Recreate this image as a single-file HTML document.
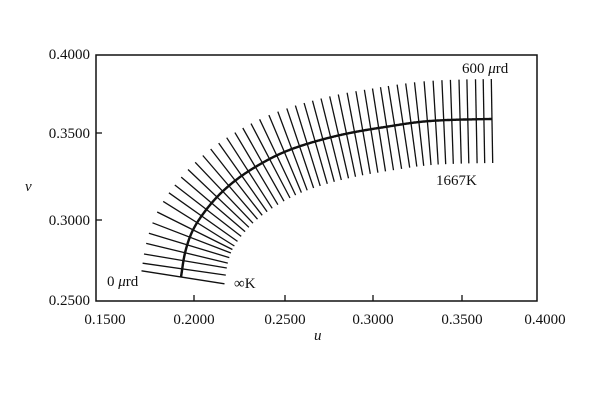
<!DOCTYPE html>
<html><head><meta charset="utf-8"><style>
html,body{margin:0;padding:0;background:#fff;}
svg text{font-family:"Liberation Serif",serif;font-size:15px;fill:#111;}
</style></head><body>
<svg id="s" width="600" height="400" xmlns="http://www.w3.org/2000/svg">
<rect x="96" y="55" width="441" height="246" fill="none" stroke="#111" stroke-width="1.5"/>
<g stroke="#111" stroke-width="1.3">
<line x1="96" y1="133" x2="102" y2="133"/><line x1="96" y1="220" x2="102" y2="220"/>
<line x1="194" y1="301" x2="194" y2="295"/><line x1="285" y1="301" x2="285" y2="295"/>
<line x1="373" y1="301" x2="373" y2="295"/><line x1="462" y1="301" x2="462" y2="295"/>
</g>
<g text-anchor="end">
<text x="90" y="59">0.4000</text><text x="90" y="138">0.3500</text>
<text x="90" y="225">0.3000</text><text x="90" y="305">0.2500</text>
</g>
<g text-anchor="middle">
<text x="105" y="324">0.1500</text><text x="194" y="324">0.2000</text>
<text x="285" y="324">0.2500</text><text x="373" y="324">0.3000</text>
<text x="462" y="324">0.3500</text><text x="545" y="324">0.4000</text>
</g>
<text x="25" y="191" font-style="italic">v</text>
<text x="314" y="340" font-style="italic">u</text>
<text x="107" y="286">0 <tspan font-style="italic">μ</tspan>rd</text>
<text x="234" y="288">∞K</text>
<text x="462" y="73">600 <tspan font-style="italic">μ</tspan>rd</text>
<text x="436" y="185">1667K</text>
<g id="g" stroke="#111"></g>
</svg>
<script>
var K=[[181,277],[185,253],[192,232],[203,214],[218,196],[236,180],[257,166],[282,153],[310,143],[345,134],[385,127],[430,121],[492,119]];
var E=[[177,302]].concat(K,[[552,119]]);
var pts=[];
for(var i=1;i<E.length-2;i++){var p0=E[i-1],p1=E[i],p2=E[i+1],p3=E[i+2];
for(var s=0;s<100;s++){var t=s/100,t2=t*t,t3=t2*t;
var f=function(a,b,c,d){return 0.5*(2*b+(-a+c)*t+(2*a-5*b+4*c-d)*t2+(-a+3*b-3*c+d)*t3);};
pts.push([f(p0[0],p1[0],p2[0],p3[0]),f(p0[1],p1[1],p2[1],p3[1])]);}}
pts.push(K[K.length-1]);
var N=pts.length-1,L=[0];for(var i=1;i<=N;i++)L.push(L[i-1]+Math.hypot(pts[i][0]-pts[i-1][0],pts[i][1]-pts[i-1][1]));
var g=document.getElementById('g'),ns='http://www.w3.org/2000/svg',d='M'+pts.map(p=>p[0].toFixed(1)+','+p[1].toFixed(1)).join('L');
var path=document.createElementNS(ns,'path');path.setAttribute('d',d);path.setAttribute('fill','none');path.setAttribute('stroke-width','2.4');g.appendChild(path);
var tot=L[N],n=48,j=0;
for(var k=0;k<n;k++){var s=tot*k/(n-1);while(j<N&&L[j]<s)j++;var a=Math.max(j-10,0),b=Math.min(j+10,N);
var p=pts[j],tx=pts[b][0]-pts[a][0],ty=pts[b][1]-pts[a][1],m=Math.hypot(tx,ty);tx/=m;ty/=m;
var nx=ty,ny=-tx;
var l=document.createElementNS(ns,'line');
l.setAttribute('x1',(p[0]+nx*40).toFixed(1));l.setAttribute('y1',(p[1]+ny*40).toFixed(1));
l.setAttribute('x2',(p[0]-nx*44).toFixed(1));l.setAttribute('y2',(p[1]-ny*44).toFixed(1));
l.setAttribute('stroke-width','1.3');g.appendChild(l);}
</script>
</body></html>
